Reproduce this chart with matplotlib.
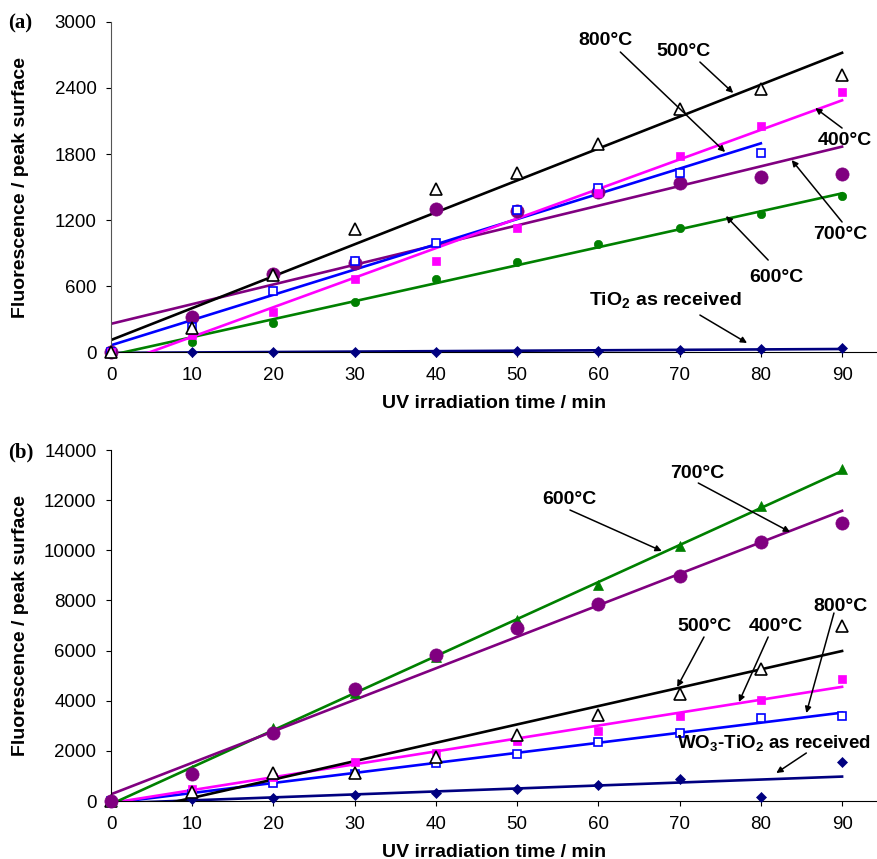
import numpy as np
import matplotlib
matplotlib.use("Agg")
import matplotlib.pyplot as plt

plt.rcParams["font.family"] = ["Liberation Sans", "DejaVu Sans"]
plt.rcParams["mathtext.fontset"] = "custom"
plt.rcParams["mathtext.rm"] = "Liberation Sans"
plt.rcParams["mathtext.bf"] = "Liberation Sans:bold"

# irradiation times (min)
times = [0, 10, 20, 30, 40, 50, 60, 70, 80, 90]
times_a800 = [0, 10, 20, 30, 40, 50, 60, 70, 80]

# panel (a): TiO2
a_400 = [0, 155, 367, 660, 830, 1130, 1442, 1785, 2055, 2366]
a_500 = [0, 218, 700, 1115, 1479, 1630, 1888, 2209, 2388, 2518]
a_600 = [0, 90, 267, 457, 661, 815, 982, 1124, 1255, 1421]
a_700 = [0, 320, 709, 806, 1297, 1282, 1457, 1539, 1588, 1618]
a_800 = [0, 225, 557, 827, 988, 1291, 1488, 1630, 1806]
a_raw = [0, 0, 0, 0, 2, 5, 10, 15, 27, 39]

# panel (b): WO3-TiO2
b_400 = [0, 466, 970, 1569, 1901, 2393, 2792, 3404, 4029, 4853]
b_500 = [0, 350, 1104, 1104, 1768, 2633, 3430, 4268, 5253, 6980]
b_600 = [0, 1250, 2898, 4295, 5731, 7220, 8616, 10171, 11780, 13231]
b_700 = [0, 1077, 2700, 4455, 5824, 6914, 7858, 8975, 10318, 11102]
b_800 = [0, 279, 705, 1077, 1503, 1862, 2367, 2726, 3298, 3404]
b_raw = [0, 68, 106, 239, 332, 478, 638, 864, 146, 1543]

BLACK, MAGENTA, BLUE = "#000000", "#ff00ff", "#0000ff"
PURPLE, GREEN, NAVY = "#800080", "#008000", "#000080"


def series(ax, t, y, color, marker, ms, hollow=False):
    t = np.asarray(t, float)
    y = np.asarray(y, float)
    k, b = np.polyfit(t, y, 1)
    xs = np.array([t[0], t[-1]])
    ax.plot(xs, k * xs + b, color=color, lw=1.9, zorder=2)
    ax.plot(t, y, linestyle="none", marker=marker, ms=ms,
            mfc="white" if hollow else color, mec=color,
            mew=1.2 if hollow else 0.5, clip_on=False, zorder=3)


def style(ax, ymax, step, spine_color):
    ax.set_xlim(0, 94.3)
    ax.set_ylim(0, ymax)
    ax.set_xticks(times)
    ax.set_yticks(np.arange(0, ymax + 1, step))
    ax.spines["top"].set_visible(False)
    ax.spines["right"].set_visible(False)
    ax.spines["left"].set_color(spine_color)
    ax.tick_params(direction="out", length=3.5, width=0.8, labelsize=13.5, pad=7)
    ax.set_xlabel("UV irradiation time / min", fontsize=14, fontweight="bold", labelpad=8)
    ax.set_ylabel("Fluorescence / peak surface", fontsize=14, fontweight="bold")
    ax.yaxis.set_label_coords(-0.107, 0.5)


def note(ax, text, txt_xy, start, tip, size=14):
    ax.annotate("", xy=tip, xytext=start,
                arrowprops=dict(arrowstyle="-|>", color="black", lw=1.1,
                                mutation_scale=9, shrinkA=0, shrinkB=0))
    ax.text(*txt_xy, text, fontsize=size, fontweight="bold", ha="center", va="center")


fig = plt.figure(figsize=(8.77, 8.59), dpi=100)

# ---- (a)
ax1 = fig.add_axes([0.1266, 0.5902, 0.8734, 0.3842])
series(ax1, times, a_raw, NAVY, "D", 5.5)
series(ax1, times, a_600, GREEN, "o", 6)
series(ax1, times, a_700, PURPLE, "o", 9.5)
series(ax1, times_a800, a_800, BLUE, "s", 5.5, hollow=True)
series(ax1, times, a_400, MAGENTA, "s", 6)
series(ax1, times, a_500, BLACK, "^", 8.5, hollow=True)
style(ax1, 3000, 600, "#555555")

note(ax1, "800°C", (60.9, 2836), (62.7, 2727), (75.6, 1818))
note(ax1, "500°C", (70.5, 2736), (72.5, 2636), (76.6, 2355))
note(ax1, "400°C", (90.4, 1927), (90.0, 2036), (86.7, 2218))
note(ax1, "700°C", (89.8, 1064), (90.0, 1182), (83.8, 1745))
note(ax1, "600°C", (81.9, 673), (80.9, 836), (75.7, 1236))
note(ax1, r"TiO$_\mathbf{2}$ as received", (68.3, 464), (72.5, 336), (78.3, 82))

# ---- (b)
ax2 = fig.add_axes([0.1266, 0.0675, 0.8734, 0.4086])
series(ax2, times, b_raw, NAVY, "D", 5.5)
series(ax2, times, b_800, BLUE, "s", 5.5, hollow=True)
series(ax2, times, b_400, MAGENTA, "s", 6)
series(ax2, times, b_500, BLACK, "^", 8.5, hollow=True)
series(ax2, times, b_600, GREEN, "^", 7.5)
series(ax2, times, b_700, PURPLE, "o", 9.5)
style(ax2, 14000, 2000, "black")

note(ax2, "700°C", (72.15, 13083), (72.3, 12684), (83.6, 10730))
note(ax2, "600°C", (56.4, 12046), (56.5, 11607), (67.8, 9972))
note(ax2, "500°C", (73.1, 6980), (73.0, 6542), (69.7, 4547))
note(ax2, "400°C", (81.9, 6980), (80.9, 6542), (77.3, 3949))
note(ax2, "800°C", (89.8, 7778), (89.0, 7499), (85.6, 3510))
note(ax2, r"WO$_\mathbf{3}$-TiO$_\mathbf{2}$ as received", (81.6, 2274), (85.6, 1915), (81.9, 1117), size=13.5)

fig.text(0.009, 0.973, "(a)", fontsize=15, fontweight="bold",
         family="Liberation Serif", va="center", ha="left")
fig.text(0.009, 0.473, "(b)", fontsize=15, fontweight="bold",
         family="Liberation Serif", va="center", ha="left")

fig.savefig("out.png", dpi=100)
